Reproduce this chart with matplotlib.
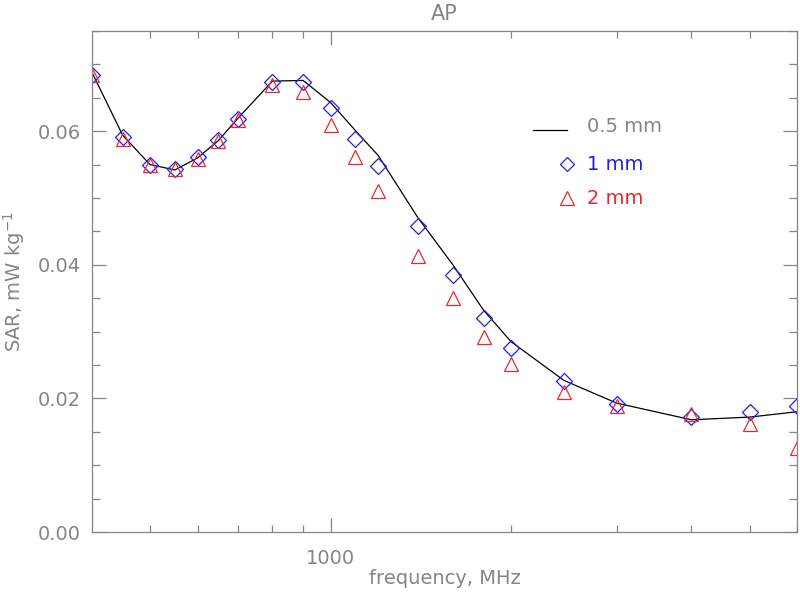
import matplotlib
matplotlib.use("Agg")
import matplotlib.pyplot as plt
from matplotlib.ticker import FixedLocator, NullFormatter, FixedFormatter, MultipleLocator, FormatStrFormatter

freq = [400, 450, 500, 550, 600, 650, 700, 800, 900, 1000, 1100, 1200,
        1400, 1600, 1800, 2000, 2450, 3000, 4000, 5000, 6000]
sar_05mm = [0.0688, 0.0594, 0.0550, 0.0542, 0.0560, 0.0586, 0.0619, 0.0675, 0.0676, 0.0643,
            0.0601, 0.0564, 0.0470, 0.0400, 0.0332, 0.0285, 0.0227, 0.0193, 0.0168, 0.0172, 0.0180]
sar_1mm = [0.0684, 0.0591, 0.0550, 0.0544, 0.0561, 0.0587, 0.0619, 0.0674, 0.0674, 0.0634,
           0.0589, 0.0548, 0.0458, 0.0384, 0.0321, 0.0275, 0.0226, 0.0191, 0.0172, 0.0180, 0.0189]
sar_2mm = [0.0684, 0.0589, 0.0549, 0.0543, 0.0559, 0.0585, 0.0617, 0.0669, 0.0659, 0.0610,
           0.0561, 0.0510, 0.0413, 0.0350, 0.0292, 0.0251, 0.0210, 0.0188, 0.0176, 0.0161, 0.0126]

labels = ["0.5 mm", "1 mm", "2 mm"]
gray = "#858585"
blue = "#2020e8"
red = "#e82830"

plt.rcParams['font.family'] = ['DejaVu Sans']
fig = plt.figure(figsize=(8.0, 5.97), dpi=100)
ax = fig.add_axes([92/800, 65/597, (797-92)/800, (532-31)/597])

ax.plot(freq, sar_05mm, color="black", lw=0.9)
ax.plot(freq, sar_1mm, ls="none", marker="D", ms=7.8, mfc="none", mec=blue, mew=0.9)
ax.plot(freq, sar_2mm, ls="none", marker="^", ms=9.8, mfc="none", mec=red, mew=0.9)

ax.set_xscale("log")
ax.set_xlim(400, 6000)
ax.set_ylim(0, 0.075)

ax.xaxis.set_major_locator(FixedLocator([1000]))
ax.xaxis.set_major_formatter(FixedFormatter(["1000"]))
ax.xaxis.set_minor_locator(FixedLocator([500, 600, 700, 800, 900, 2000, 3000, 4000, 5000, 6000]))
ax.xaxis.set_minor_formatter(NullFormatter())
ax.yaxis.set_major_locator(MultipleLocator(0.02))
ax.yaxis.set_major_formatter(FormatStrFormatter("%.2f"))
ax.yaxis.set_minor_locator(MultipleLocator(0.005))

ax.tick_params(which="both", direction="in", top=True, right=True, color=gray,
               labelcolor=gray, labelsize=14, width=0.9)
ax.tick_params(axis="y", which="major", length=10, pad=8)
ax.tick_params(axis="y", which="minor", length=6)
ax.tick_params(axis="x", which="major", length=10, pad=12)
ax.tick_params(axis="x", which="minor", length=5)
for s in ax.spines.values():
    s.set_color(gray)
    s.set_linewidth(0.9)

ax.set_xlabel("frequency, MHz", color=gray, fontsize=14, labelpad=1)
ax.set_ylabel("SAR, mW kg$^{-1}$", color=gray, fontsize=14, labelpad=8)
ax.set_title("AP", color=gray, fontsize=15, pad=8)

# legend drawn manually
tr = ax.transAxes
def ax_x(px):
    return (px - 92) / (797 - 92)
def ax_y(py):
    return (532 - py) / (532 - 31)
ax.plot([ax_x(533), ax_x(567)], [ax_y(130), ax_y(130)], color="black", lw=0.9, transform=tr)
ax.text(ax_x(587), ax_y(126), labels[0], color=gray, fontsize=14, va="center", ha="left", transform=tr)
ax.plot([ax_x(567)], [ax_y(164)], marker="D", ms=7.2, mfc="none", mec=blue, mew=0.9, transform=tr)
ax.text(ax_x(587), ax_y(164), labels[1], color=blue, fontsize=14, va="center", ha="left", transform=tr)
ax.plot([ax_x(567)], [ax_y(198)], marker="^", ms=9.5, mfc="none", mec=red, mew=0.9, transform=tr)
ax.text(ax_x(587), ax_y(198), labels[2], color=red, fontsize=14, va="center", ha="left", transform=tr)

fig.savefig("out.png", dpi=100)
